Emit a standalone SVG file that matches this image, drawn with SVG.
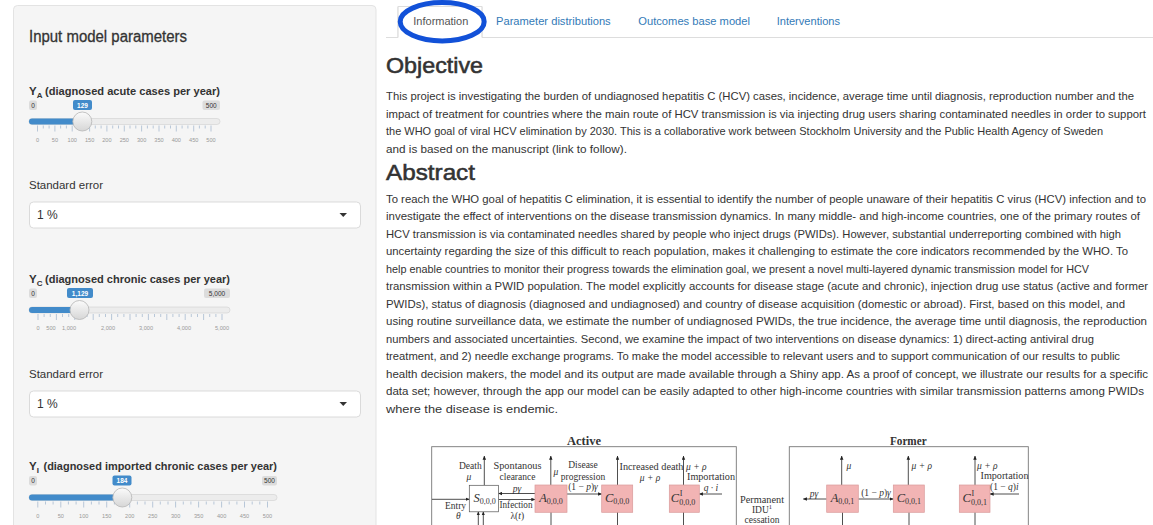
<svg xmlns="http://www.w3.org/2000/svg" width="1153" height="525" viewBox="0 0 1153 525">
<defs>
<style>
.lbl{font-family:"Liberation Sans",Arial,sans-serif;font-weight:bold;font-size:11.5px;fill:#333}
.sub{font-family:"Liberation Sans",Arial,sans-serif;font-weight:bold;font-size:8px;fill:#333}
.se{font-family:"Liberation Sans",Arial,sans-serif;font-size:11.5px;fill:#333}
.badge{fill:#dcdcdc}
.badgev{fill:#428bca}
.bt{font-family:"Liberation Sans",Arial,sans-serif;font-size:6.5px;fill:#333;text-anchor:middle}
.btv{font-family:"Liberation Sans",Arial,sans-serif;font-size:6.5px;fill:#fff;text-anchor:middle;font-weight:bold}
.track{fill:#ececec;stroke:#d0d0d0;stroke-width:0.6}
.bar{fill:#428bca}
.handle{fill:url(#hg);stroke:#b5b5b5;stroke-width:0.8}
.ticks{stroke:#9db3cc;stroke-width:0.7;fill:none}
.tl{font-family:"Liberation Sans",Arial,sans-serif;font-size:5.6px;fill:#999;text-anchor:middle}
.sel{fill:#fff;stroke:#d2d2d2;stroke-width:0.8}
.selt{font-family:"Liberation Sans",Arial,sans-serif;font-size:12px;fill:#333}
.caret{fill:#333}
.tab{font-family:"Liberation Sans",Arial,sans-serif;font-size:11.5px;fill:#337ab7}
.h{font-family:"Liberation Sans",Arial,sans-serif;font-size:22px;fill:#333;stroke:#333;stroke-width:0.55}
.p{font-family:"Liberation Sans",Arial,sans-serif;font-size:10.8px;fill:#333}
.ft{font-family:"Liberation Serif","DejaVu Serif",serif;font-size:9.5px;fill:#333}
.fm{text-anchor:middle}
.fi{font-style:italic}
.fb{font-weight:bold;font-size:12px;text-anchor:middle}
.nl{font-family:"Liberation Serif","DejaVu Serif",serif;font-size:12.5px;fill:#333}
.ns{font-size:8px;font-style:normal}
.box{fill:#fff;stroke:#555;stroke-width:0.7}
.pink{fill:#f2b4b4;stroke:#d99a9a;stroke-width:0.7}
.frame{fill:none;stroke:#777;stroke-width:0.9}
.conn line{stroke:#222;stroke-width:0.8}
.arr{marker-end:url(#ah)}
</style>
<linearGradient id="hg" x1="0" y1="0" x2="0" y2="1"><stop offset="0" stop-color="#fbfbfb"/><stop offset="1" stop-color="#d6d6d6"/></linearGradient>
<marker id="ah" viewBox="0 0 6 6" refX="5.5" refY="3" markerWidth="4" markerHeight="4" markerUnits="userSpaceOnUse" orient="auto"><path d="M0,0.4 L6,3 L0,5.6 z" fill="#222"/></marker>
</defs>
<rect width="1153" height="525" fill="#fff"/>

<g id="sidebar">
<rect x="13.5" y="5.5" width="362.5" height="540" rx="4" fill="#f5f5f5" stroke="#e3e3e3"/>
<text x="29" y="42" font-family="Liberation Sans, Arial, sans-serif" font-size="16" fill="#333" stroke="#333" stroke-width="0.3" textLength="158" lengthAdjust="spacingAndGlyphs">Input model parameters</text>
</g>

<g id="slider-ya">
<text x="29" y="95" class="lbl">Y</text><text x="36.8" y="98" class="sub">A</text>
<text x="45" y="95" class="lbl" textLength="175" lengthAdjust="spacingAndGlyphs">(diagnosed acute cases per year)</text>
<rect x="29" y="100.5" width="8" height="9.5" rx="2" class="badge"/><text x="33" y="107.6" class="bt">0</text>
<rect x="202.5" y="100.5" width="17.5" height="9.5" rx="2" class="badge"/><text x="211.2" y="107.6" class="bt">500</text>
<rect x="29" y="118.5" width="191" height="6" rx="3" class="track"/>
<rect x="29" y="118.5" width="53.3" height="6" rx="3" class="bar"/>
<rect x="73" y="100" width="19" height="10" rx="2" class="badgev"/><text x="82.5" y="107.5" class="btv">129</text>
<path class="ticks" d="M37.5 125.5v6M54.9 125.5v6M72.2 125.5v6M89.6 125.5v6M106.9 125.5v6M124.3 125.5v6M141.6 125.5v6M159 125.5v6M176.3 125.5v6M193.7 125.5v6M211 125.5v6M43.3 125.5v3M49.1 125.5v3M60.6 125.5v3M66.4 125.5v3M78 125.5v3M83.8 125.5v3M95.3 125.5v3M101.1 125.5v3M112.7 125.5v3M118.5 125.5v3M130 125.5v3M135.8 125.5v3M147.4 125.5v3M153.2 125.5v3M164.7 125.5v3M170.5 125.5v3M182.1 125.5v3M187.9 125.5v3M199.4 125.5v3M205.2 125.5v3"/>
<circle cx="82.3" cy="121.5" r="9.5" class="handle"/>
<text y="141.5" class="tl"><tspan x="37.5">0</tspan><tspan x="54.9">50</tspan><tspan x="72.2">100</tspan><tspan x="89.6">150</tspan><tspan x="106.9">200</tspan><tspan x="124.3">250</tspan><tspan x="141.6">300</tspan><tspan x="159">350</tspan><tspan x="176.3">400</tspan><tspan x="193.7">450</tspan><tspan x="211">500</tspan></text>
</g>

<g id="select-se1">
<text x="29" y="189" class="se" textLength="74" lengthAdjust="spacingAndGlyphs">Standard error</text>
<rect x="29.5" y="202" width="331" height="26" rx="4" class="sel"/>
<text x="37" y="219" class="selt">1 %</text>
<path class="caret" d="M339.5 213h7.5l-3.75 4z"/>
</g>

<g id="slider-yc">
<text x="29" y="283" class="lbl">Y</text><text x="36.8" y="286" class="sub">C</text>
<text x="45" y="283" class="lbl" textLength="185" lengthAdjust="spacingAndGlyphs">(diagnosed chronic cases per year)</text>
<rect x="29" y="288.5" width="8" height="9.5" rx="2" class="badge"/><text x="33" y="295.6" class="bt">0</text>
<rect x="204" y="288.5" width="26" height="9.5" rx="2" class="badge"/><text x="217" y="295.6" class="bt">5,000</text>
<rect x="29" y="307" width="201" height="6" rx="3" class="track"/>
<rect x="29" y="307" width="50.5" height="6" rx="3" class="bar"/>
<rect x="67" y="288" width="26" height="10" rx="2" class="badgev"/><text x="80" y="295.5" class="btv">1,129</text>
<path class="ticks" d="M38 314v6M56.4 314v6M74.8 314v6M93.2 314v6M111.6 314v6M130 314v6M148.4 314v6M166.8 314v6M185.2 314v6M203.6 314v6M222 314v6M44.1 314v3M50.3 314v3M62.5 314v3M68.7 314v3M80.9 314v3M87.1 314v3M99.3 314v3M105.5 314v3M117.7 314v3M123.9 314v3M136.1 314v3M142.3 314v3M154.5 314v3M160.7 314v3M172.9 314v3M179.1 314v3M191.3 314v3M197.5 314v3M209.7 314v3M215.9 314v3"/>
<circle cx="79.5" cy="310" r="9.5" class="handle"/>
<text y="330" class="tl"><tspan x="38">0</tspan><tspan x="51">500</tspan><tspan x="69">1,000</tspan><tspan x="108">2,000</tspan><tspan x="146">3,000</tspan><tspan x="184">4,000</tspan><tspan x="222">5,000</tspan></text>
</g>

<g id="select-se2">
<text x="29" y="378" class="se" textLength="74" lengthAdjust="spacingAndGlyphs">Standard error</text>
<rect x="29.5" y="391" width="331" height="26" rx="4" class="sel"/>
<text x="37" y="408" class="selt">1 %</text>
<path class="caret" d="M339.5 402h7.5l-3.75 4z"/>
</g>

<g id="slider-yi">
<text x="29" y="470" class="lbl">Y</text><text x="36.8" y="473" class="sub">I</text>
<text x="43.5" y="470" class="lbl" textLength="233.5" lengthAdjust="spacingAndGlyphs">(diagnosed imported chronic cases per year)</text>
<rect x="29" y="476" width="8" height="9.5" rx="2" class="badge"/><text x="33" y="483.1" class="bt">0</text>
<rect x="262" y="476" width="15" height="9.5" rx="2" class="badge"/><text x="269.5" y="483.1" class="bt">500</text>
<rect x="29" y="494.5" width="248" height="6" rx="3" class="track"/>
<rect x="29" y="494.5" width="93.3" height="6" rx="3" class="bar"/>
<rect x="112.5" y="475.5" width="19" height="10" rx="2" class="badgev"/><text x="122" y="483" class="btv">184</text>
<path class="ticks" d="M37.8 501.5v6M60.8 501.5v6M83.7 501.5v6M106.7 501.5v6M129.7 501.5v6M152.7 501.5v6M175.6 501.5v6M198.6 501.5v6M221.6 501.5v6M244.5 501.5v6M267.5 501.5v6M45.5 501.5v3M53.1 501.5v3M68.4 501.5v3M76.1 501.5v3M91.4 501.5v3M99 501.5v3M114.4 501.5v3M122 501.5v3M137.4 501.5v3M145 501.5v3M160.3 501.5v3M168 501.5v3M183.3 501.5v3M190.9 501.5v3M206.3 501.5v3M213.9 501.5v3M229.2 501.5v3M236.9 501.5v3M252.2 501.5v3M259.8 501.5v3"/>
<circle cx="122.3" cy="497.5" r="9.5" class="handle"/>
<text y="518" class="tl"><tspan x="37.8">0</tspan><tspan x="60.8">50</tspan><tspan x="83.7">100</tspan><tspan x="106.7">150</tspan><tspan x="129.7">200</tspan><tspan x="152.7">250</tspan><tspan x="175.6">300</tspan><tspan x="198.6">350</tspan><tspan x="221.6">400</tspan><tspan x="244.5">450</tspan><tspan x="267.5">500</tspan></text>
</g>

<g id="tabs">
<path d="M386 37.5H398V6.5H482V37.5H1153" fill="none" stroke="#ddd"/>
<rect x="398.5" y="7" width="83" height="31" fill="#fff"/>
<path d="M398 37.5V6.5H482V37.5" fill="none" stroke="#ddd"/>
<text x="413.3" y="25" class="tab" style="fill:#555" textLength="55" lengthAdjust="spacingAndGlyphs">Information</text>
<text x="496" y="25" class="tab" textLength="114.7" lengthAdjust="spacingAndGlyphs">Parameter distributions</text>
<text x="638.3" y="25" class="tab" textLength="111.7" lengthAdjust="spacingAndGlyphs">Outcomes base model</text>
<text x="776.7" y="25" class="tab" textLength="63.3" lengthAdjust="spacingAndGlyphs">Interventions</text>
<ellipse cx="442.2" cy="21.7" rx="42" ry="19.2" fill="none" stroke="#1251d8" stroke-width="5"/>
</g>

<g id="objective">
<text x="386" y="73" class="h" textLength="97" lengthAdjust="spacingAndGlyphs">Objective</text>
<text x="386" y="100" class="p" textLength="748" lengthAdjust="spacingAndGlyphs">This project is investigating the burden of undiagnosed hepatitis C (HCV) cases, incidence, average time until diagnosis, reproduction number and the</text>
<text x="386" y="117.5" class="p" textLength="760" lengthAdjust="spacingAndGlyphs">impact of treatment for countries where the main route of HCV transmission is via injecting drug users sharing contaminated needles in order to support</text>
<text x="386" y="135" class="p" textLength="717" lengthAdjust="spacingAndGlyphs">the WHO goal of viral HCV elimination by 2030. This is a collaborative work between Stockholm University and the Public Health Agency of Sweden</text>
<text x="386" y="152.5" class="p" textLength="241" lengthAdjust="spacingAndGlyphs">and is based on the manuscript (link to follow).</text>
</g>

<g id="abstract">
<text x="386" y="180" class="h" textLength="89" lengthAdjust="spacingAndGlyphs">Abstract</text>
<text x="386" y="202.5" class="p" textLength="760" lengthAdjust="spacingAndGlyphs">To reach the WHO goal of hepatitis C elimination, it is essential to identify the number of people unaware of their hepatitis C virus (HCV) infection and to</text>
<text x="386" y="220" class="p" textLength="754" lengthAdjust="spacingAndGlyphs">investigate the effect of interventions on the disease transmission dynamics. In many middle- and high-income countries, one of the primary routes of</text>
<text x="386" y="237.5" class="p" textLength="735" lengthAdjust="spacingAndGlyphs">HCV transmission is via contaminated needles shared by people who inject drugs (PWIDs). However, substantial underreporting combined with high</text>
<text x="386" y="255" class="p" textLength="742" lengthAdjust="spacingAndGlyphs">uncertainty regarding the size of this difficult to reach population, makes it challenging to estimate the core indicators recommended by the WHO. To</text>
<text x="386" y="272.5" class="p" textLength="703" lengthAdjust="spacingAndGlyphs">help enable countries to monitor their progress towards the elimination goal, we present a novel multi-layered dynamic transmission model for HCV</text>
<text x="386" y="290" class="p" textLength="762" lengthAdjust="spacingAndGlyphs">transmission within a PWID population. The model explicitly accounts for disease stage (acute and chronic), injection drug use status (active and former</text>
<text x="386" y="307.5" class="p" textLength="739" lengthAdjust="spacingAndGlyphs">PWIDs), status of diagnosis (diagnosed and undiagnosed) and country of disease acquisition (domestic or abroad). First, based on this model, and</text>
<text x="386" y="325" class="p" textLength="761" lengthAdjust="spacingAndGlyphs">using routine surveillance data, we estimate the number of undiagnosed PWIDs, the true incidence, the average time until diagnosis, the reproduction</text>
<text x="386" y="342.5" class="p" textLength="708" lengthAdjust="spacingAndGlyphs">numbers and associated uncertainties. Second, we examine the impact of two interventions on disease dynamics: 1) direct-acting antiviral drug</text>
<text x="386" y="360" class="p" textLength="734" lengthAdjust="spacingAndGlyphs">treatment, and 2) needle exchange programs. To make the model accessible to relevant users and to support communication of our results to public</text>
<text x="386" y="377.5" class="p" textLength="762" lengthAdjust="spacingAndGlyphs">health decision makers, the model and its output are made available through a Shiny app. As a proof of concept, we illustrate our results for a specific</text>
<text x="386" y="395" class="p" textLength="758" lengthAdjust="spacingAndGlyphs">data set; however, through the app our model can be easily adapted to other high-income countries with similar transmission patterns among PWIDs</text>
<text x="386" y="412.5" class="p" textLength="172" lengthAdjust="spacingAndGlyphs">where the disease is endemic.</text>
</g>

<g id="figure">
<g id="frame-active">
<rect x="431.7" y="446.7" width="304.6" height="100" class="frame"/>
<text x="584" y="444.5" class="ft fb" textLength="34" lengthAdjust="spacingAndGlyphs">Active</text>
</g>
<g id="frame-former">
<rect x="789.3" y="446.7" width="239" height="100" class="frame"/>
<text x="908.3" y="444.5" class="ft fb" textLength="36.7" lengthAdjust="spacingAndGlyphs">Former</text>
</g>

<g id="connectors" class="conn">
<line x1="484.3" y1="485.3" x2="484.3" y2="456" class="arr"/>
<line x1="550.8" y1="485" x2="550.8" y2="456" class="arr"/>
<line x1="617.5" y1="485" x2="617.5" y2="456" class="arr"/>
<line x1="683.5" y1="485" x2="683.5" y2="456" class="arr"/>
<line x1="432" y1="499.3" x2="469.3" y2="499.3" class="arr"/>
<line x1="535" y1="493.5" x2="498.5" y2="493.5" class="arr"/>
<line x1="498.5" y1="499.5" x2="535" y2="499.5" class="arr"/>
<line x1="567" y1="494" x2="601.7" y2="494" class="arr"/>
<line x1="722" y1="494" x2="699.3" y2="494" class="arr"/>
<line x1="478.3" y1="525" x2="478.3" y2="511.8" class="arr"/>
<line x1="483.3" y1="525" x2="483.3" y2="511.8" class="arr"/>
<line x1="551" y1="512" x2="551" y2="525"/>
<line x1="617.5" y1="512" x2="617.5" y2="525"/>
<line x1="683.5" y1="512" x2="683.5" y2="525"/>
<line x1="841.7" y1="485" x2="841.7" y2="456" class="arr"/>
<line x1="826.7" y1="499" x2="803.3" y2="499" class="arr"/>
<line x1="858.3" y1="499" x2="893.3" y2="499" class="arr"/>
<line x1="908.3" y1="485" x2="908.3" y2="456" class="arr"/>
<line x1="975" y1="485" x2="975" y2="456" class="arr"/>
<line x1="1019" y1="494" x2="990" y2="494" class="arr"/>
<line x1="842.5" y1="512.3" x2="842.5" y2="525"/>
<line x1="909" y1="512.3" x2="909" y2="525"/>
<line x1="975" y1="512.3" x2="975" y2="525"/>
</g>

<g id="node-S000">
<rect x="469.3" y="485.3" width="29.2" height="26.5" class="box"/>
<text x="484.5" y="502" class="nl fm"><tspan class="fi">S</tspan><tspan class="ns" dy="2">0,0,0</tspan></text>
</g>
<g id="node-A000">
<rect x="535" y="485" width="32" height="27.3" class="pink"/>
<text x="551" y="502" class="nl fm"><tspan class="fi">A</tspan><tspan class="ns" dy="2">0,0,0</tspan></text>
</g>
<g id="node-C000">
<rect x="601.7" y="485" width="31" height="27.3" class="pink"/>
<text x="617.2" y="502" class="nl fm"><tspan class="fi">C</tspan><tspan class="ns" dy="2">0,0,0</tspan></text>
</g>
<g id="node-CI000">
<rect x="669.3" y="485" width="30" height="27.3" class="pink"/>
<text x="670.8" y="502" class="nl"><tspan class="fi">C</tspan><tspan class="ns fi" x="679.8" dy="-6">I</tspan><tspan class="ns" x="679.3" dy="8.5">0,0,0</tspan></text>
</g>
<g id="node-A001">
<rect x="826.7" y="485" width="31.6" height="27.3" class="pink"/>
<text x="842.5" y="502" class="nl fm"><tspan class="fi">A</tspan><tspan class="ns" dy="2">0,0,1</tspan></text>
</g>
<g id="node-C001">
<rect x="893.3" y="485" width="31" height="27.3" class="pink"/>
<text x="908.8" y="502" class="nl fm"><tspan class="fi">C</tspan><tspan class="ns" dy="2">0,0,1</tspan></text>
</g>
<g id="node-CI001">
<rect x="959.3" y="485" width="30.7" height="27.3" class="pink"/>
<text x="962.5" y="502" class="nl"><tspan class="fi">C</tspan><tspan class="ns fi" x="971.5" dy="-6">I</tspan><tspan class="ns" x="971" dy="8.5">0,0,1</tspan></text>
</g>

<g id="labels">
<text x="481.7" y="468.5" class="ft" text-anchor="end">Death</text>
<text x="469" y="480" class="ft fm fi">μ</text>
<text x="517.5" y="468.5" class="ft fm" textLength="48" lengthAdjust="spacingAndGlyphs">Spontanous</text>
<text x="517.5" y="479.5" class="ft fm">clearance</text>
<text x="517" y="491.5" class="ft fm fi">pγ</text>
<text x="499.5" y="507.5" class="ft" textLength="33" lengthAdjust="spacingAndGlyphs">Infection</text>
<text x="517.3" y="518.5" class="ft fm">λ(<tspan class="fi">t</tspan>)</text>
<text x="445" y="508.5" class="ft">Entry</text>
<text x="458.3" y="519" class="ft fm fi">θ</text>
<text x="553.5" y="475" class="ft fi">μ</text>
<text x="583" y="467.5" class="ft fm">Disease</text>
<text x="583" y="480" class="ft fm">progression</text>
<text x="583" y="490" class="ft fm">(1 − <tspan class="fi">p</tspan>)<tspan class="fi">γ</tspan></text>
<text x="619.5" y="470" class="ft" textLength="64" lengthAdjust="spacingAndGlyphs">Increased death</text>
<text x="650" y="481" class="ft fm fi">μ + ρ</text>
<text x="686" y="470" class="ft fi">μ + ρ</text>
<text x="687" y="480" class="ft" textLength="48" lengthAdjust="spacingAndGlyphs">Importation</text>
<text x="711" y="491" class="ft fm fi">q · i</text>
<text x="762" y="503" class="ft fm" textLength="44" lengthAdjust="spacingAndGlyphs">Permanent</text>
<text x="762" y="512.5" class="ft fm">IDU<tspan font-size="6.5" dy="-3.5">1</tspan></text>
<text x="762" y="522.5" class="ft fm">cessation</text>
<text x="846.5" y="469" class="ft fi">μ</text>
<text x="814" y="496.5" class="ft fm fi">pγ</text>
<text x="876" y="496" class="ft fm">(1 − <tspan class="fi">p</tspan>)<tspan class="fi">γ</tspan></text>
<text x="911.5" y="469" class="ft fi">μ + ρ</text>
<text x="977" y="469" class="ft fi">μ + ρ</text>
<text x="980.5" y="479" class="ft" textLength="48" lengthAdjust="spacingAndGlyphs">Importation</text>
<text x="990" y="490" class="ft">(1 − <tspan class="fi">q</tspan>)<tspan class="fi">i</tspan></text>
</g>
</g>
</svg>
